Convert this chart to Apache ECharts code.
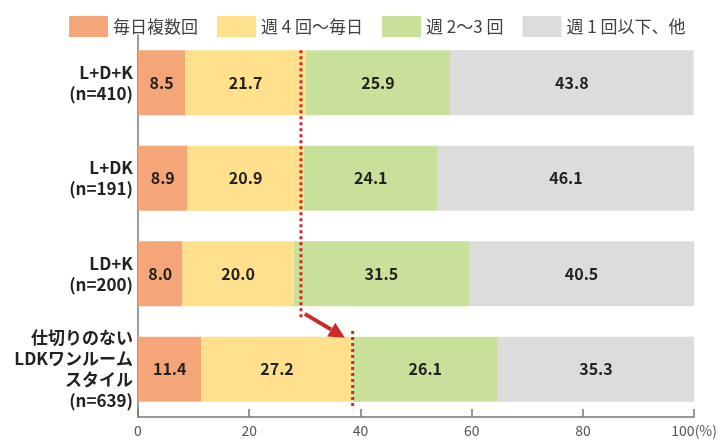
<!DOCTYPE html>
<html>
<head>
<meta charset="utf-8">
<script src="https://cdn.jsdelivr.net/npm/echarts@6/dist/echarts.min.js"></script>
<style>html,body{margin:0;padding:0;background:#fff}#c{width:720px;height:440px}</style>
</head>
<body>
<div id="c"></div>
<script>
const categories = ['L+D+K\n(n=410)', 'L+DK\n(n=191)', 'LD+K\n(n=200)', '仕切りのない\nLDKワンルーム\nスタイル\n(n=639)'];
const seriesNames = ['毎日複数回', '週 4 回～毎日', '週 2～3 回', '週 1 回以下、他'];
const dailyMulti = [8.5, 8.9, 8.0, 11.4];
const week4toDaily = [21.7, 20.9, 20.0, 27.2];
const week2to3 = [25.9, 24.1, 31.5, 26.1];
const week1orLess = [43.8, 46.1, 40.5, 35.3];
const xTicks = [0, 20, 40, 60, 80, 100];
// annotation values (in %)
const avgLine = 29.3;       // dotted line across the first three bars
const ldkLine = 38.6;       // dotted line at the LDK one-room boundary
const arrowFrom = 30.0;
const arrowTo = 37.2;

const colors = ['#F4A679', '#FEE08D', '#C9E09A', '#DCDCDC'];
const FONT = '"Noto Sans CJK JP", "Noto Sans", sans-serif';
const RED = '#CC2B2B';

const seriesData = [dailyMulti, week4toDaily, week2to3, week1orLess];

const barSeries = seriesData.map((d, i) => ({
  name: seriesNames[i],
  type: 'bar',
  stack: 'total',
  data: d,
  barCategoryGap: '32%',
  itemStyle: { color: colors[i] },
  label: {
    show: true,
    position: 'inside',
    color: '#222',
    fontFamily: FONT,
    fontWeight: 'bold',
    fontSize: 16,
    formatter: p => Number(p.value).toFixed(1)
  }
}));

function renderAnno(params, api) {
  const band = api.size([0, 1])[1];
  const t1 = api.coord([avgLine, 0]);
  const b1 = api.coord([avgLine, 2]);
  const c2 = api.coord([ldkLine, 3]);
  const a0 = api.coord([arrowFrom, 2]);
  const a1 = api.coord([arrowTo, 3]);
  const dash = { stroke: RED, lineWidth: 3, lineDash: [3, 3] };
  const x0 = a0[0], y0 = a0[1] + 0.42 * band;
  const x1 = a1[0], y1 = a1[1] - 0.33 * band;
  const dx = x1 - x0, dy = y1 - y0, len = Math.sqrt(dx * dx + dy * dy);
  const ux = dx / len, uy = dy / len;
  const hl = 16, hw = 8;
  const bx = x1 - ux * hl, by = y1 - uy * hl;
  return {
    type: 'group',
    children: [
      { type: 'line', shape: { x1: t1[0], y1: t1[1] - 0.34 * band, x2: b1[0], y2: b1[1] + 0.48 * band }, style: dash },
      { type: 'line', shape: { x1: c2[0], y1: c2[1] - 0.40 * band, x2: c2[0], y2: c2[1] + 0.42 * band }, style: dash },
      { type: 'line', shape: { x1: x0, y1: y0, x2: bx, y2: by }, style: { stroke: RED, lineWidth: 4 } },
      { type: 'polygon', shape: { points: [[x1, y1], [bx - uy * hw, by + ux * hw], [bx + uy * hw, by - ux * hw]] }, style: { fill: RED } }
    ]
  };
}

const chart = echarts.init(document.getElementById('c'), null, { renderer: 'canvas' });
chart.setOption({
  animation: false,
  color: colors,
  legend: {
    data: seriesNames,
    top: 11,
    left: 64,
    icon: 'rect',
    itemWidth: 39,
    itemHeight: 21,
    itemGap: 19,
    textStyle: { fontFamily: FONT, fontSize: 17, color: '#404040' }
  },
  grid: { left: 138, right: 24, top: 35, bottom: 23, containLabel: false },
  xAxis: {
    type: 'value',
    min: 0,
    max: 100,
    interval: 20,
    axisLine: { show: true, lineStyle: { color: '#777', width: 1.5 } },
    axisTick: { show: true, inside: true, length: 8, lineStyle: { color: '#777', width: 1.5 } },
    splitLine: { show: false },
    axisLabel: {
      fontFamily: FONT,
      fontSize: 14,
      color: '#555',
      margin: 7,
      formatter: v => (xTicks.indexOf(v) >= 0 ? (v === 100 ? '100(%)' : String(v)) : '')
    }
  },
  yAxis: {
    type: 'category',
    data: categories,
    inverse: true,
    axisLine: { show: true, lineStyle: { color: '#777', width: 1.5 } },
    axisTick: { show: false },
    axisLabel: {
      fontFamily: FONT,
      fontSize: 17,
      fontWeight: 'bold',
      color: '#222',
      lineHeight: 21,
      align: 'right',
      margin: 5,
      padding: [26, 0, 0, 0]
    }
  },
  series: barSeries.concat([{
    type: 'custom',
    name: 'anno',
    silent: true,
    z: 10,
    data: [[0, 0]],
    renderItem: renderAnno
  }])
});
</script>
</body>
</html>
